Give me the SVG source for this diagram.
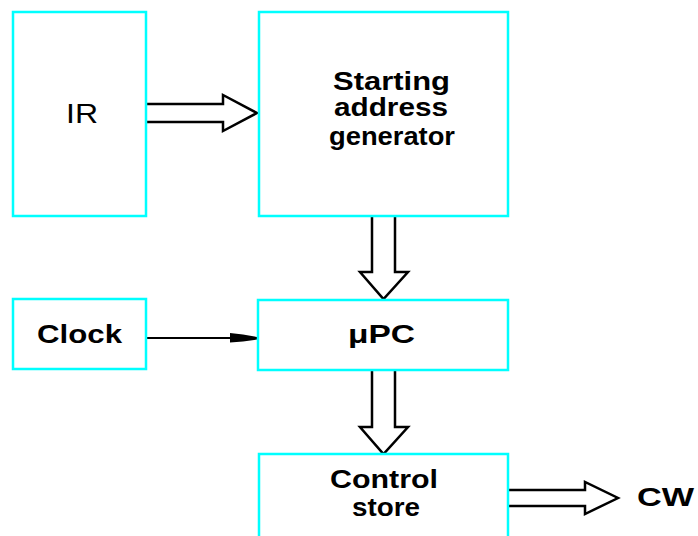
<svg xmlns="http://www.w3.org/2000/svg" width="698" height="536" viewBox="0 0 698 536">
  <style>
    .box { fill: #ffffff; stroke: #00ffff; stroke-width: 2.5; }
    .label { font-family: "Liberation Sans", Arial, sans-serif; font-weight: bold; font-size: 25px; fill: #000000; text-anchor: middle; }
    .plain { font-family: "Liberation Sans", Arial, sans-serif; font-size: 28px; fill: #000000; text-anchor: middle; }
    .bus { fill: #ffffff; stroke: #000000; stroke-width: 2.5; stroke-linejoin: miter; }
    .wire { fill: none; stroke: #000000; stroke-width: 2; }
  </style>
  <rect x="0" y="0" width="698" height="536" fill="#ffffff"/>

  <!-- wide bus arrows and the clock line -->
  <g id="connectors">
    <path class="bus" d="M147,104 H223 V95 L257,113 L223,131 V122 H147"/>
    <path class="bus" d="M372,217 V272 H360 L383.5,299 L408,272 H395 V217"/>
    <path class="bus" d="M372,371 V427 H360 L383.5,454 L408,427 H395 V371"/>
    <path class="bus" d="M509,490 H585 V482 L618,498 L585,514 V506 H509"/>
    <line class="wire" x1="147" y1="338" x2="231" y2="338"/>
    <polygon points="230,333 243,334.5 257,337 257,339.5 243,341.5 230,342.5" fill="#000000"/>
  </g>

  <g id="ir">
    <rect class="box" x="13" y="12" width="133" height="204"/>
    <text class="plain" x="82" y="123" textLength="32" lengthAdjust="spacingAndGlyphs">IR</text>
  </g>

  <g id="start-gen">
    <rect class="box" x="259" y="12" width="249" height="204"/>
    <text class="label" x="391.5" y="90" textLength="117" lengthAdjust="spacingAndGlyphs">Starting</text>
    <text class="label" x="391" y="116" textLength="114" lengthAdjust="spacingAndGlyphs">address</text>
    <text class="label" x="392" y="145" textLength="126" lengthAdjust="spacingAndGlyphs">generator</text>
  </g>

  <g id="clock">
    <rect class="box" x="13" y="299" width="133" height="70"/>
    <text class="label" x="79.5" y="343" textLength="85" lengthAdjust="spacingAndGlyphs">Clock</text>
  </g>

  <g id="upc">
    <rect class="box" x="258" y="300" width="250" height="70"/>
    <text class="label" x="381.5" y="343" textLength="67" lengthAdjust="spacingAndGlyphs">μPC</text>
  </g>

  <g id="control-store">
    <rect class="box" x="259" y="454" width="249" height="100"/>
    <text class="label" x="384" y="488" textLength="108" lengthAdjust="spacingAndGlyphs">Control</text>
    <text class="label" x="386" y="516" textLength="68" lengthAdjust="spacingAndGlyphs">store</text>
  </g>

  <g id="cw">
    <text class="label" x="665.5" y="506" textLength="57" lengthAdjust="spacingAndGlyphs">CW</text>
  </g>
</svg>
